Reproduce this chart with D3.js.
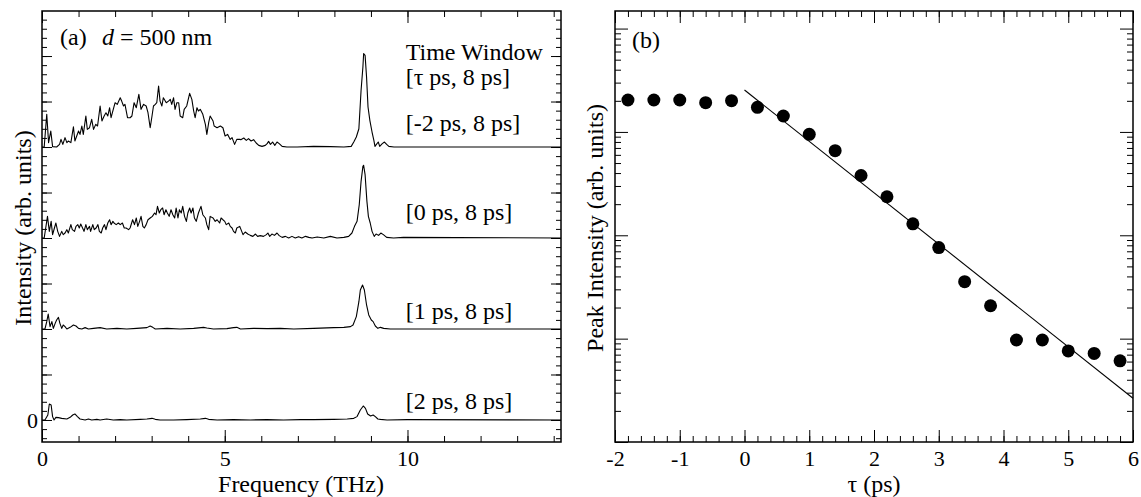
<!DOCTYPE html>
<html>
<head>
<meta charset="utf-8">
<script src="https://cdn.jsdelivr.net/npm/d3@7"></script>
<style>
  body { margin: 0; background: #fff; }
  svg text { font-family: "Liberation Serif", "Times New Roman", serif; fill: #000; }
</style>
</head>
<body>
<script>
// ---------- panel (a): spectra for each time window, [frequency THz, intensity] ----------
const specM2 = [[0,0],[0.06,0],[0.13,3.59],[0.18,0.48],[0.24,1.76],[0.29,0.04],[0.40,0],[0.48,0.29],[0.52,0.84],[0.57,0.29],[0.63,1.03],[0.68,0.48],[0.72,0.66],[0.79,0.48],[0.86,2.23],[0.90,0.66],[0.95,1.21],[1.00,1.76],[1.04,1.39],[1.09,2.31],[1.13,1.39],[1.20,3.41],[1.24,1.94],[1.30,2.12],[1.36,3.04],[1.41,1.94],[1.47,2.49],[1.52,2.31],[1.59,4.51],[1.64,2.86],[1.70,3.41],[1.75,3.77],[1.80,3.41],[1.85,4.32],[1.89,3.22],[1.95,4.14],[2.00,4.87],[2.06,4.69],[2.14,5.42],[2.18,5.05],[2.23,4.51],[2.27,4.69],[2.34,3.22],[2.41,3.22],[2.46,3.41],[2.52,4.87],[2.58,4.32],[2.65,5.79],[2.71,4.14],[2.78,4.69],[2.85,4.51],[2.90,3.77],[2.96,2.12],[3.01,3.41],[3.05,4.51],[3.10,4.69],[3.14,4.87],[3.19,6.70],[3.23,5.05],[3.28,4.51],[3.32,5.42],[3.40,4.87],[3.46,5.05],[3.51,5.24],[3.55,4.69],[3.60,5.42],[3.64,4.14],[3.69,4.87],[3.74,4.87],[3.78,3.41],[3.85,3.22],[3.89,4.14],[3.96,4.51],[4.04,5.90],[4.10,5.24],[4.15,3.96],[4.19,3.22],[4.24,4.32],[4.28,3.96],[4.33,4.14],[4.40,3.59],[4.47,2.49],[4.51,1.39],[4.56,2.67],[4.60,3.41],[4.68,2.86],[4.71,2.31],[4.79,2.12],[4.88,2.31],[4.95,2.12],[5.01,1.21],[5.08,1.39],[5.15,0.84],[5.20,1.03],[5.27,0.29],[5.33,0.84],[5.41,0.84],[5.44,0.81],[5.52,0.99],[5.59,0.73],[5.65,0.92],[5.72,0.66],[5.79,0.81],[5.86,0.44],[5.93,0.18],[6.02,0.07],[6.11,0.18],[6.16,0.37],[6.20,0.62],[6.25,0.29],[6.31,0.55],[6.37,0.18],[6.43,0.55],[6.49,0.37],[6.57,0.07],[6.70,0],[6.98,0],[7.43,0.07],[7.89,0.04],[8.26,0],[8.46,0.07],[8.53,0.55],[8.60,1.10],[8.67,2.01],[8.73,6.23],[8.78,8.79],[8.80,10.26],[8.84,10.07],[8.88,7.69],[8.92,4.40],[8.97,2.93],[9.03,1.65],[9.08,0.73],[9.11,0.07],[9.15,0.29],[9.20,0.55],[9.24,0.07],[9.31,0.37],[9.37,0.55],[9.43,0.29],[9.49,0.07],[9.63,0],[14.2,0]];

const spec0 = [[0,0],[0.06,0],[0.15,2.38],[0.20,0.73],[0.25,1.83],[0.29,0.37],[0.34,1.10],[0.38,1.65],[0.43,0.73],[0.48,0.18],[0.54,0.73],[0.58,0.37],[0.63,0.55],[0.68,0.92],[0.72,0.55],[0.79,1.47],[0.83,0.92],[0.89,0.73],[0.93,1.28],[0.98,1.47],[1.02,1.10],[1.06,1.54],[1.11,1.10],[1.15,0.73],[1.20,1.47],[1.24,0.92],[1.30,1.28],[1.33,0.73],[1.39,1.47],[1.43,0.92],[1.48,1.10],[1.53,1.47],[1.57,0.73],[1.62,0.55],[1.66,1.10],[1.71,1.47],[1.75,0.92],[1.80,1.65],[1.85,2.01],[1.89,1.47],[1.94,1.83],[1.97,1.65],[2.03,1.47],[2.09,1.65],[2.14,1.47],[2.20,1.65],[2.25,1.10],[2.30,1.10],[2.37,0.92],[2.41,1.10],[2.48,2.01],[2.53,1.47],[2.58,2.20],[2.62,1.28],[2.67,1.83],[2.71,2.38],[2.76,1.28],[2.80,1.10],[2.85,1.47],[2.90,2.01],[2.96,2.20],[3.02,2.38],[3.08,2.75],[3.12,2.56],[3.16,3.48],[3.21,2.75],[3.25,3.11],[3.30,3.30],[3.34,2.56],[3.39,3.11],[3.43,2.75],[3.48,2.38],[3.53,3.11],[3.58,2.56],[3.63,2.20],[3.67,3.30],[3.72,2.20],[3.76,3.11],[3.81,2.75],[3.85,3.48],[3.90,2.38],[3.95,1.83],[3.99,2.75],[4.04,3.30],[4.08,2.75],[4.13,3.30],[4.17,2.20],[4.22,1.83],[4.28,2.75],[4.35,3.48],[4.40,2.56],[4.47,2.20],[4.51,1.47],[4.56,0.92],[4.60,2.38],[4.68,2.20],[4.74,1.83],[4.79,2.01],[4.86,1.65],[4.90,2.20],[4.95,2.01],[5.00,1.83],[5.04,1.47],[5.11,1.65],[5.15,1.28],[5.20,1.10],[5.24,0.73],[5.29,0.55],[5.33,1.10],[5.41,1.28],[5.50,0.37],[5.56,0.66],[5.63,0.44],[5.70,0.29],[5.77,0.18],[5.84,0.44],[5.90,0.18],[5.97,0.26],[6.06,0.18],[6.14,0.37],[6.18,0.55],[6.23,0.18],[6.29,0.44],[6.36,0.29],[6.43,0.55],[6.49,0.26],[6.57,0.07],[6.66,0.18],[6.75,0],[6.84,0.18],[6.93,0],[7.02,0.15],[7.11,0],[7.21,0.18],[7.30,0.07],[7.39,0],[7.53,0.11],[7.71,0],[7.89,0.18],[8.07,0],[8.26,0.07],[8.39,0.18],[8.48,0.55],[8.55,1.28],[8.62,1.83],[8.68,3.66],[8.73,6.23],[8.78,7.88],[8.80,7.99],[8.84,6.96],[8.89,4.03],[8.93,2.38],[8.98,1.65],[9.03,0.73],[9.09,0.18],[9.14,0.44],[9.21,0.29],[9.27,0.55],[9.34,0.37],[9.43,0.07],[9.62,0],[9.89,0.07],[14.2,0]];

const spec1 = [[0,0],[0.08,0],[0.13,0.81],[0.17,1.65],[0.22,0.26],[0.27,0.81],[0.31,0.07],[0.36,0.62],[0.40,0.99],[0.45,1.28],[0.49,0.62],[0.54,0.07],[0.58,0.44],[0.63,0.26],[0.68,0],[0.77,0.18],[0.86,0.44],[0.93,0.33],[1.00,0.07],[1.09,0],[1.18,0.15],[1.27,0],[1.41,0.07],[1.59,0.15],[1.77,0],[2.05,0.07],[2.32,0],[2.59,0.07],[2.87,0.15],[2.96,0.33],[3.03,0.18],[3.10,0],[3.42,0.07],[3.78,0],[4.15,0.07],[4.42,0.18],[4.51,0.11],[4.69,0],[5.06,0.04],[5.24,0.15],[5.33,0.18],[5.43,0],[5.79,0.07],[6.16,0.04],[6.52,0.07],[6.89,0],[7.43,0.07],[7.98,0.15],[8.26,0.18],[8.44,0.26],[8.51,0.44],[8.60,1.36],[8.67,3.00],[8.71,4.29],[8.77,4.84],[8.82,4.29],[8.88,2.64],[8.94,1.54],[9.01,0.99],[9.06,0.81],[9.12,0.33],[9.19,0.07],[9.26,0.18],[9.35,0.07],[9.53,0],[14.2,0]];

const spec2 = [[0,0],[0.08,0],[0.16,0.55],[0.20,1.76],[0.25,1.65],[0.29,0.37],[0.33,0],[0.38,0.29],[0.45,0.26],[0.54,0.18],[0.68,0.11],[0.77,0.29],[0.84,0.55],[0.90,0.66],[0.97,0.37],[1.04,0.11],[1.18,0],[1.27,0.11],[1.36,0],[1.50,0.07],[1.59,0],[1.77,0.11],[1.95,0],[2.14,0.04],[2.32,0],[2.69,0.07],[2.87,0.11],[3.01,0.18],[3.10,0.07],[3.23,0],[3.60,0],[3.96,0.04],[4.33,0.11],[4.47,0.18],[4.56,0.07],[4.79,0],[5.24,0.04],[5.70,0],[6.16,0.04],[6.61,0],[7.07,0.04],[7.43,0.04],[7.98,0.07],[8.35,0.11],[8.53,0.18],[8.62,0.37],[8.71,1.10],[8.79,1.54],[8.85,1.28],[8.91,0.66],[8.99,0.44],[9.06,0.55],[9.12,0.37],[9.19,0.11],[9.26,0.07],[9.44,0],[9.99,0.04],[14.2,0]];

const spectra = [specM2, spec0, spec1, spec2];
const baseOffsets = [30, 20, 10, 0];          // vertical offsets of the traces
const windowLabels = ["[-2 ps, 8 ps]", "[0 ps, 8 ps]", "[1 ps, 8 ps]", "[2 ps, 8 ps]"];
const freqTicks = [0, 5, 10];

// ---------- panel (b): peak intensity vs tau ----------
const tauValues  = [-1.8, -1.4, -1.0, -0.6, -0.2, 0.2, 0.6, 1.0, 1.4, 1.8, 2.2, 2.6, 3.0, 3.4, 3.8, 4.2, 4.6, 5.0, 5.4, 5.8];
const peakValues = [2037, 2037, 2037, 1918, 2005, 1730, 1426, 948, 658, 379, 236, 129, 76, 35.6, 20.8, 9.7, 9.7, 7.6, 7.2, 6.1];
const fitTau  = [0, 6];
const fitPeak = [2545, 2.65];
const tauTicks = [-2, -1, 0, 1, 2, 3, 4, 5, 6];

const W = 1141, H = 497;
const svg = d3.select("body").append("svg").attr("width", W).attr("height", H);

// plain hyphen minus, like the original figure
const plain = d => String(d);

// helper: inward ticks, no domain line
function ticks(g, axis, values, size, fmt, pad) {
  g.call(axis.tickValues(values).tickSizeInner(-size).tickSizeOuter(0)
      .tickPadding(pad || 0).tickFormat(fmt || (() => "")));
  g.select(".domain").remove();
  g.attr("font-size", 22);
  g.selectAll("line").attr("stroke", "#000").attr("stroke-width", 1);
  return g;
}

// ===== panel (a) =====
const xA = d3.scaleLinear().domain([0, 14.2]).range([42, 561]);
const yA = d3.scaleLinear().domain([-2.42, 44.95]).range([442, 11]);

const minorF = d3.range(0, 15, 1);
const minorA = d3.range(-2, 45, 1);
const majorA = d3.range(0, 45, 5);

ticks(svg.append("g").attr("transform", "translate(0,442)"), d3.axisBottom(xA), minorF, 6);
ticks(svg.append("g").attr("transform", "translate(0,442)"), d3.axisBottom(xA), freqTicks, 12, plain, 8);
ticks(svg.append("g").attr("transform", "translate(0,11)"), d3.axisTop(xA), minorF, 6);
ticks(svg.append("g").attr("transform", "translate(0,11)"), d3.axisTop(xA), freqTicks, 12);
ticks(svg.append("g").attr("transform", "translate(42,0)"), d3.axisLeft(yA), minorA, 5);
ticks(svg.append("g").attr("transform", "translate(42,0)"), d3.axisLeft(yA), majorA, 10,
      d => d === 0 ? "0" : "", 4);
ticks(svg.append("g").attr("transform", "translate(561,0)"), d3.axisRight(yA), minorA, 5);
ticks(svg.append("g").attr("transform", "translate(561,0)"), d3.axisRight(yA), majorA, 10);

svg.append("rect").attr("x", 42).attr("y", 11).attr("width", 561 - 42).attr("height", 442 - 11)
  .attr("fill", "none").attr("stroke", "#000").attr("stroke-width", 1.5);

const clipA = svg.append("clipPath").attr("id", "clipA");
clipA.append("rect").attr("x", 42).attr("y", 11).attr("width", 519).attr("height", 431);

spectra.forEach((s, i) => {
  const line = d3.line()
    .x(d => xA(d[0]))
    .y(d => yA(d[1] + baseOffsets[i]));
  svg.append("path").datum(s)
    .attr("d", line)
    .attr("clip-path", "url(#clipA)")
    .attr("fill", "none").attr("stroke", "#000").attr("stroke-width", 1.1)
    .attr("stroke-linejoin", "round");
});

const labelDy = [-16, -18, -10, -11];
windowLabels.forEach((t, i) => {
  svg.append("text").attr("x", xA(9.95)).attr("y", yA(baseOffsets[i]) + labelDy[i])
    .attr("font-size", 24).text(t);
});
svg.append("text").attr("x", xA(9.95)).attr("y", 60).attr("font-size", 24).text("Time Window");
svg.append("text").attr("x", xA(9.95)).attr("y", 85).attr("font-size", 24).text("[\u03c4 ps, 8 ps]");

svg.append("text").attr("x", 60).attr("y", 45).attr("font-size", 24).text("(a)");
const ta = svg.append("text").attr("x", 102).attr("y", 45).attr("font-size", 24);
ta.append("tspan").attr("font-style", "italic").text("d");
ta.append("tspan").text(" = 500 nm");

svg.append("text").attr("x", 301).attr("y", 492).attr("text-anchor", "middle")
  .attr("font-size", 24).text("Frequency (THz)");
svg.append("text").attr("transform", "translate(31,228) rotate(-90)").attr("text-anchor", "middle")
  .attr("font-size", 24).text("Intensity (arb. units)");

// ===== panel (b) =====
const xB = d3.scaleLinear().domain([-2, 6]).range([615, 1133]);
const yB = d3.scaleLog().domain([1, Math.pow(10, 4.17)]).range([442, 11]);

const minorT = d3.range(-2, 6.01, 0.2).map(v => +v.toFixed(1));
const decades = [1, 10, 100, 1000, 10000];
const logMinor = [];
decades.forEach(dk => { for (let k = 2; k <= 9; k++) if (dk * k < yB.domain()[1]) logMinor.push(dk * k); });

ticks(svg.append("g").attr("transform", "translate(0,442)"), d3.axisBottom(xB), minorT, 6);
ticks(svg.append("g").attr("transform", "translate(0,442)"), d3.axisBottom(xB), tauTicks, 12, plain, 8);
ticks(svg.append("g").attr("transform", "translate(0,11)"), d3.axisTop(xB), minorT, 6);
ticks(svg.append("g").attr("transform", "translate(0,11)"), d3.axisTop(xB), tauTicks, 12);
ticks(svg.append("g").attr("transform", "translate(615,0)"), d3.axisLeft(yB), logMinor, 6);
ticks(svg.append("g").attr("transform", "translate(615,0)"), d3.axisLeft(yB), decades, 13);
ticks(svg.append("g").attr("transform", "translate(1133,0)"), d3.axisRight(yB), logMinor, 6);
ticks(svg.append("g").attr("transform", "translate(1133,0)"), d3.axisRight(yB), decades, 13);

svg.append("rect").attr("x", 615).attr("y", 11).attr("width", 1133 - 615).attr("height", 442 - 11)
  .attr("fill", "none").attr("stroke", "#000").attr("stroke-width", 1.5);

svg.append("path").datum(d3.zip(fitTau, fitPeak))
  .attr("d", d3.line().x(d => xB(d[0])).y(d => yB(d[1])))
  .attr("fill", "none").attr("stroke", "#000").attr("stroke-width", 1.1);

svg.append("g").selectAll("circle")
  .data(d3.zip(tauValues, peakValues))
  .join("circle")
  .attr("cx", d => xB(d[0]))
  .attr("cy", d => yB(d[1]))
  .attr("r", 6.5)
  .attr("fill", "#000");

svg.append("text").attr("x", 632).attr("y", 48).attr("font-size", 24).text("(b)");
svg.append("text").attr("x", xB(2)).attr("y", 492).attr("text-anchor", "middle")
  .attr("font-size", 24).text("\u03c4 (ps)");
svg.append("text").attr("transform", "translate(603,228) rotate(-90)").attr("text-anchor", "middle")
  .attr("font-size", 24).text("Peak Intensity (arb. units)");
</script>
</body>
</html>
